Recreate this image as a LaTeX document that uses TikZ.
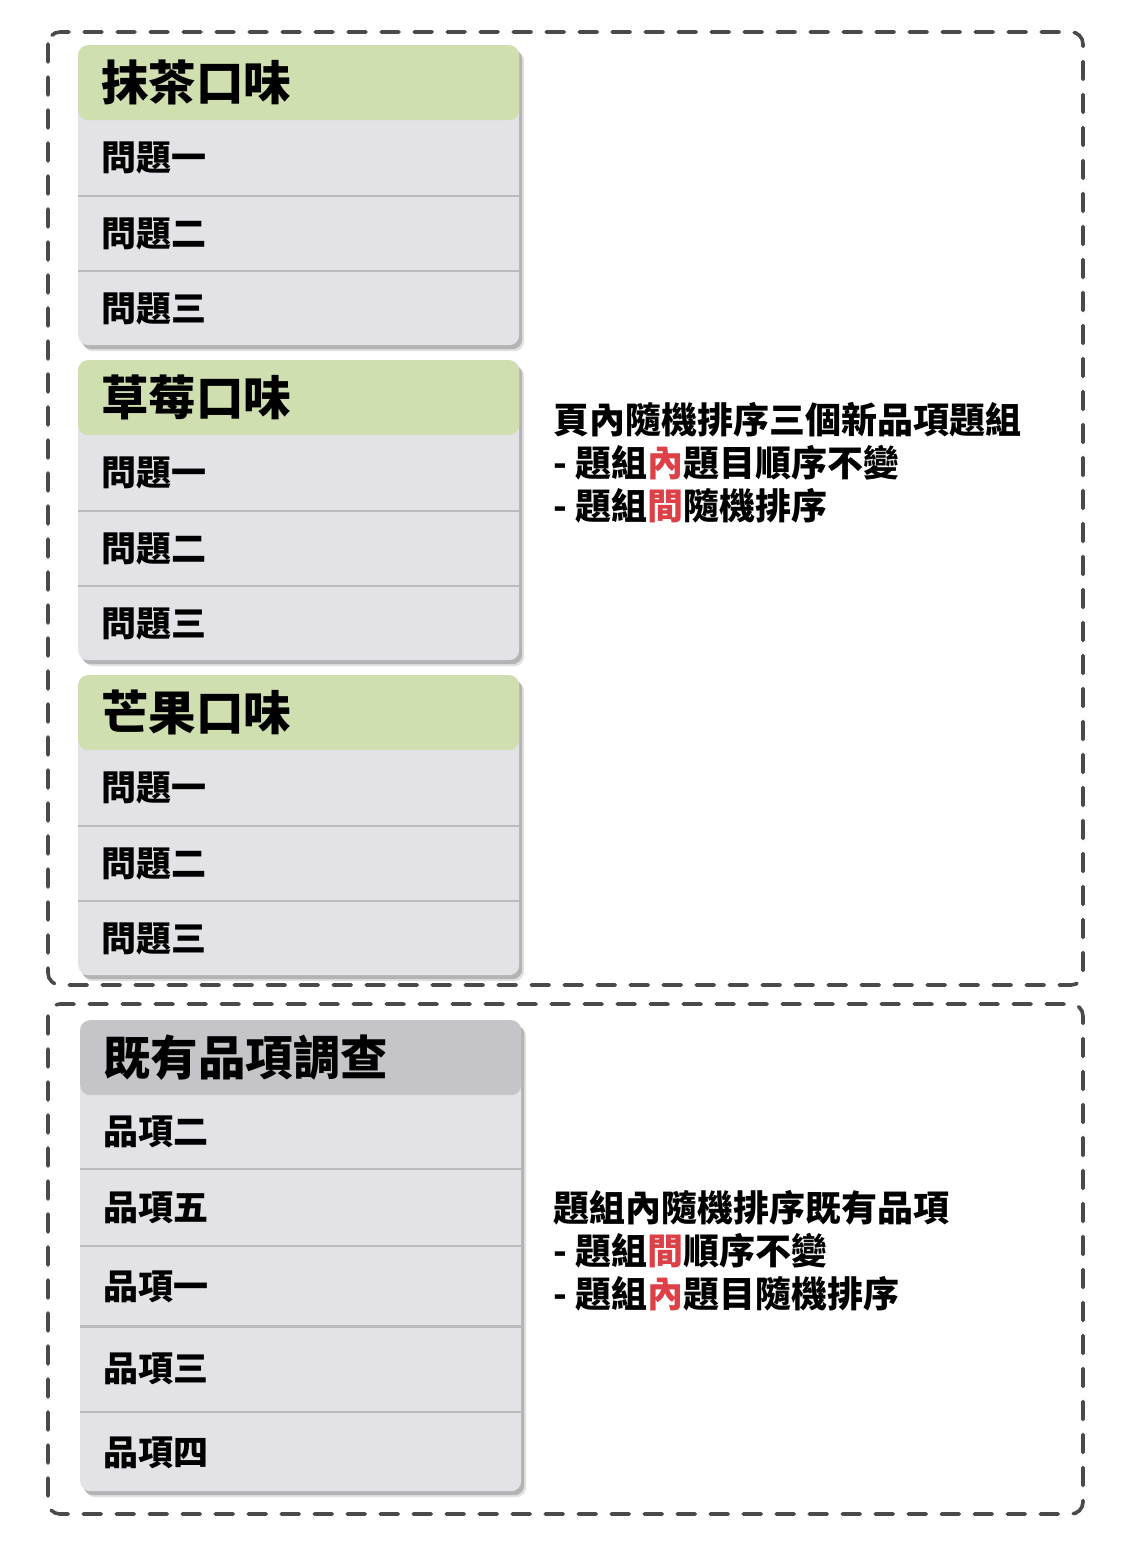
\documentclass[tikz,border=0pt]{standalone}
\usepackage{fontspec}
\newfontfamily\cjk{Noto Sans CJK TC}
\usetikzlibrary{positioning,shadows}

\definecolor{framegray}{RGB}{74,74,76}
\definecolor{headgreen}{RGB}{207,223,176}
\definecolor{headgray}{RGB}{197,196,200}
\definecolor{itemgray}{RGB}{227,226,230}
\definecolor{linegray}{RGB}{187,187,190}
\definecolor{hl}{RGB}{222,64,72}

\tikzset{
  frame/.style={draw=framegray, line width=3.6pt, dash pattern=on 18pt off 15pt,
    line cap=round, rounded corners=12pt},
  card/.style={rectangle, rounded corners=10pt, fill=itemgray, anchor=north west,
    minimum width=441pt, inner sep=0pt,
    drop shadow={shadow xshift=5pt, shadow yshift=-6pt, fill=black, opacity=0.12},
    drop shadow={shadow xshift=3pt, shadow yshift=-4pt, fill=black, opacity=0.2}},
  headfill/.style={path picture={\fill[#1] (path picture bounding box.north west)
    rectangle ([yshift=-75pt]path picture bounding box.north east);}},
  headtext/.style={anchor=north west, text width=395pt, inner xsep=23pt, inner ysep=0pt,
    minimum height=75pt, align=left, font=\cjk\bfseries\fontsize{47.5}{50}\selectfont},
  itemtext/.style={text width=395pt, inner xsep=23pt, inner ysep=0pt,
    minimum height=#1, align=left, font=\cjk\bfseries\fontsize{35}{40}\selectfont},
  itemtext/.default=75pt,
  divider/.style={draw=linegray, line width=2.5pt},
  note/.style={anchor=west, align=left, inner sep=0pt,
    font=\cjk\bfseries\fontsize{36}{43}\selectfont}
}

\begin{document}
\begin{tikzpicture}[x=1pt, y=-1pt]

\useasboundingbox[fill=white] (0,0) rectangle (1131,1563);

%% outer frames
\draw[frame] (48,32) rectangle (1083,985);
\draw[frame] (48,1004) rectangle (1083,1514);

%% three new flavour groups
\foreach \t/\top/\g in {抹茶口味/45/a, 草莓口味/360/b, 芒果口味/675/c}{
  \node[card, minimum height=300pt, headfill=headgreen] (\g) at (78,\top) {};
  \node[headtext] (\g h) at (\g.north west) {\t};
  \node[itemtext, below=0pt of \g h] (\g 1) {問題一};
  \node[itemtext, below=0pt of \g 1] (\g 2) {問題二};
  \node[itemtext, below=0pt of \g 2] (\g 3) {問題三};
  \draw[divider] (\g 1.south west) -- (\g 1.south east);
  \draw[divider] (\g 2.south west) -- (\g 2.south east);
}

%% existing items
\node[card, minimum height=471pt, headfill=headgray] (d) at (80,1020) {};
\node[headtext] (dh) at (d.north west) {既有品項調查};
\node[itemtext=73pt, below=0pt of dh] (d1) {品項二};
\node[itemtext=77pt, below=0pt of d1] (d2) {品項五};
\node[itemtext=80pt, below=0pt of d2] (d3) {品項一};
\node[itemtext=85pt, below=0pt of d3] (d4) {品項三};
\node[itemtext=81pt, below=0pt of d4] (d5) {品項四};
\foreach \i in {1,...,4}
  \draw[divider] (d\i.south west) -- (d\i.south east);

%% notes
\node[note] (n1) at (553,463)
  {頁內隨機排序三個新品項題組\\- 題組\textcolor{hl}{內}題目順序不變\\- 題組\textcolor{hl}{間}隨機排序};
\node[note] (n2) at (553,1251)
  {題組內隨機排序既有品項\\- 題組\textcolor{hl}{間}順序不變\\- 題組\textcolor{hl}{內}題目隨機排序};

\end{tikzpicture}
\end{document}
